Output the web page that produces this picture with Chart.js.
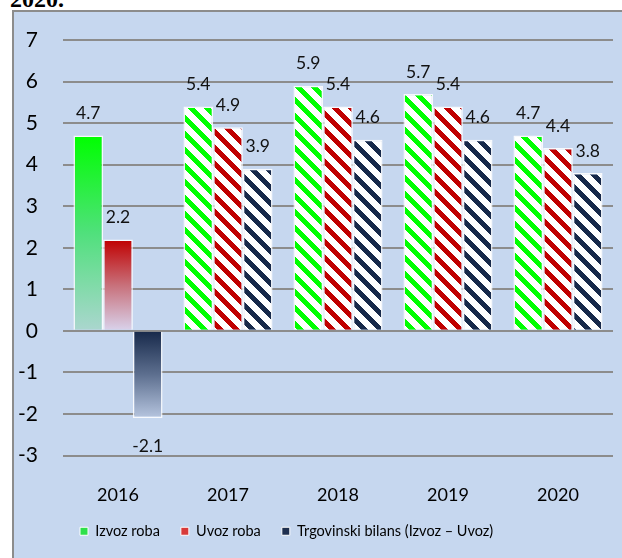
<!DOCTYPE html>
<html>
<head>
<meta charset="utf-8">
<script src="https://cdn.jsdelivr.net/npm/chart.js@4.4.1/dist/chart.umd.min.js"></script>
<style>
  html, body { margin: 0; padding: 0; background: #fff; }
  #wrap { position: relative; width: 622px; height: 558px; overflow: hidden; }
  #title { position: absolute; left: 10px; top: -13px; font: bold 24px "Liberation Serif", serif; line-height: 24px; color: #000; }
  #box { position: absolute; left: 12px; top: 10px; width: 620px; height: 560px;
         background: #c6d7ef; border-left: 2px solid #8c8c8c; border-top: 2px solid #8c8c8c; }
  #c { position: absolute; left: 0; top: 0; }
</style>
</head>
<body>
<div id="wrap">
  <div id="title">2020.</div>
  <div id="box"></div>
  <canvas id="c" width="622" height="558"></canvas>
</div>
<script>
// podaci
const godine = ['2016', '2017', '2018', '2019', '2020'];
const izvozRoba = [4.7, 5.4, 5.9, 5.7, 4.7];
const uvozRoba = [2.2, 4.9, 5.4, 5.4, 4.4];
const trgovinskiBilans = [-2.1, 3.9, 4.6, 4.6, 3.8];
const yMin = -3, yMax = 7;

const canvas = document.getElementById('c');
const ctx = canvas.getContext('2d');

// dijagonalne pruge kao u Excelu
function pruge(boja) {
  const t = document.createElement('canvas');
  t.width = t.height = 16;
  const g = t.getContext('2d');
  g.fillStyle = '#fff';
  g.fillRect(0, 0, 16, 16);
  g.fillStyle = boja;
  for (let y = 0; y < 16; y++) {
    for (let x = 0; x < 16; x++) {
      if ((((x - y) % 16) + 16) % 16 < 7) g.fillRect(x, y, 1, 1);
    }
  }
  return ctx.createPattern(t, 'repeat');
}

const boje = {
  izvoz: { pattern: pruge('#00ff00'), stops: ['#00ff00', '#50e07c', '#abd6cf'], legend: '#2ee04a' },
  uvoz: { pattern: pruge('#c00000'), stops: ['#c00000', '#c8707a', '#d9d3ec'], legend: '#d83a3a' },
  bilans: { pattern: pruge('#17294a'), stops: ['#17294a', '#5d6f8f', '#b6c5df'], legend: '#1f3050' }
};

function pozadina(kljuc) {
  return (c) => {
    const b = boje[kljuc];
    if (c.type !== 'data') return b.legend;
    if (c.dataIndex !== 0) return b.pattern;
    const chart = c.chart;
    if (!chart.chartArea) return b.stops[0];
    const y = chart.scales.y;
    const v = c.raw;
    // gradijent od vrha vrijednosti prema nuli (za negativne od nule prema dolje)
    const y0 = v >= 0 ? y.getPixelForValue(v) : y.getPixelForValue(0);
    const y1 = v >= 0 ? y.getPixelForValue(0) : y.getPixelForValue(v);
    const gr = chart.ctx.createLinearGradient(0, y0, 0, y1);
    gr.addColorStop(0, b.stops[0]);
    gr.addColorStop(0.5, b.stops[1]);
    gr.addColorStop(1, b.stops[2]);
    return gr;
  };
}

// oznake vrijednosti iznad / ispod stupaca
const oznake = {
  id: 'oznake',
  afterDatasetsDraw(chart) {
    const g = chart.ctx;
    g.save();
    g.font = '17.5px Lato';
    g.fillStyle = '#111';
    g.textAlign = 'center';
    g.textBaseline = 'middle';
    chart.data.datasets.forEach((ds, i) => {
      chart.getDatasetMeta(i).data.forEach((bar, j) => {
        const v = ds.data[j];
        const y = v >= 0 ? bar.y - 22 : bar.y + 28;
        g.fillText(v.toFixed(1), bar.x, y);
      });
    });
    g.restore();
  }
};

// legenda pomaknuta kao u originalu
const pomakLegende = {
  id: 'pomakLegende',
  afterLayout(chart) {
    if (chart.legend) {
      chart.legend.left = 59;
      chart.legend.top = 503;
    }
  }
};

new Chart(ctx, {
  type: 'bar',
  data: {
    labels: godine,
    datasets: [
      { label: 'Izvoz roba', data: izvozRoba, backgroundColor: pozadina('izvoz') },
      { label: 'Uvoz roba', data: uvozRoba, backgroundColor: pozadina('uvoz') },
      { label: 'Trgovinski bilans (Izvoz \u2013 Uvoz)', data: trgovinskiBilans, backgroundColor: pozadina('bilans') }
    ]
  },
  options: {
    responsive: false,
    animation: false,
    layout: { padding: { top: 40, right: 9, bottom: 0, left: 0 } },
    datasets: {
      bar: {
        categoryPercentage: 0.81,
        barPercentage: 1.0,
        borderColor: 'rgba(255,255,255,0.85)',
        borderWidth: 1.5
      }
    },
    scales: {
      x: {
        grid: { display: false },
        border: { display: false },
        ticks: { color: '#000', font: { family: 'Lato', size: 18 }, padding: 21 },
        afterFit: (s) => { s.height = 57; }
      },
      y: {
        min: yMin,
        max: yMax,
        grid: { color: '#8c8c8c', lineWidth: 2, drawTicks: false },
        border: { display: false },
        ticks: { stepSize: 1, color: '#000', font: { family: 'Lato', size: 21 }, padding: 25 },
        afterFit: (s) => { s.width = 63; }
      }
    },
    plugins: {
      tooltip: { enabled: false },
      legend: {
        position: 'bottom',
        align: 'start',
        labels: {
          color: '#000',
          font: { family: 'Lato', size: 14.5 },
          boxWidth: 8,
          boxHeight: 8,
          padding: 21,
          generateLabels: (chart) => chart.data.datasets.map((ds, i) => ({
            text: ds.label,
            fillStyle: Object.values(boje)[i].legend,
            strokeStyle: '#fff',
            lineWidth: 1,
            hidden: false,
            datasetIndex: i
          }))
        }
      }
    }
  },
  plugins: [oznake, pomakLegende]
});
</script>
</body>
</html>
